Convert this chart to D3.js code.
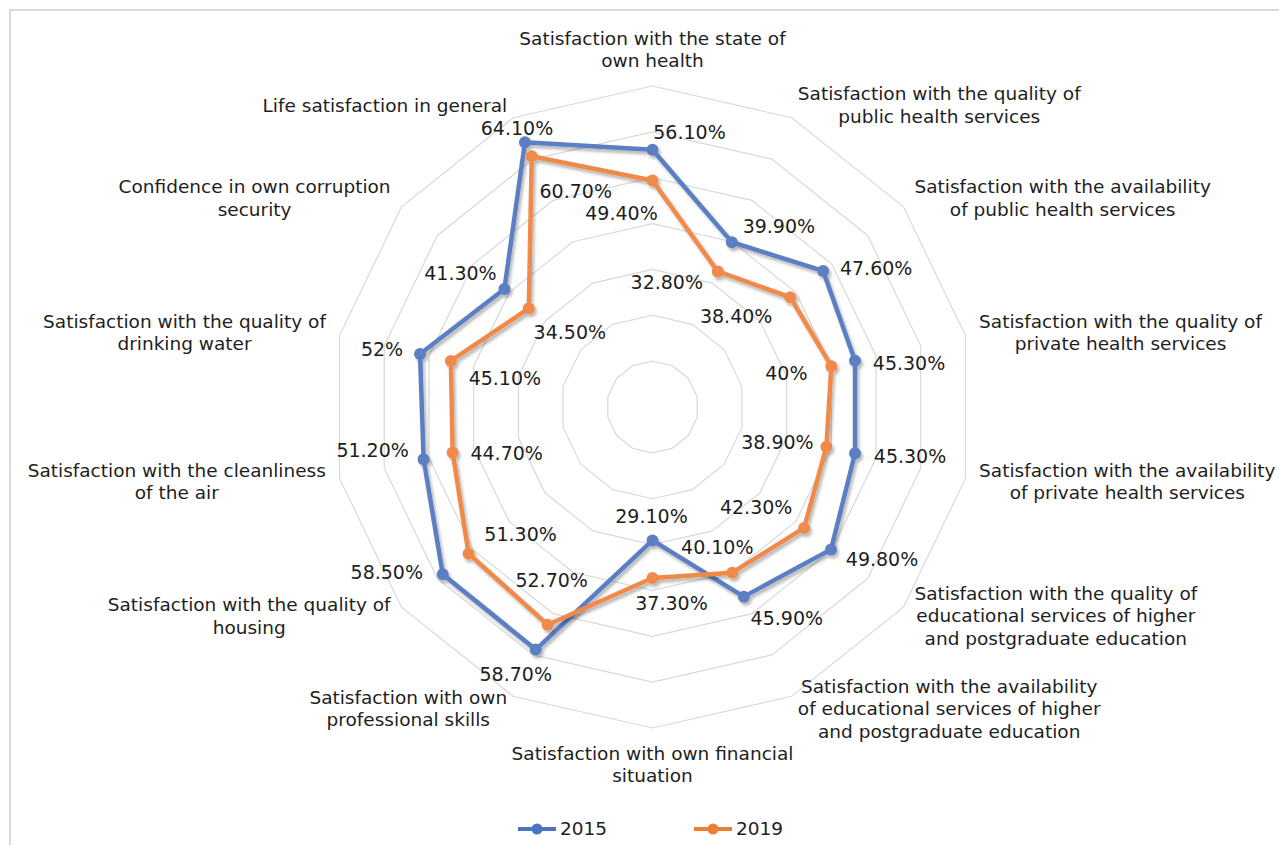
<!DOCTYPE html>
<html>
<head>
<meta charset="utf-8">
<script src="https://cdn.jsdelivr.net/npm/d3@7/dist/d3.min.js"></script>
<style>
  html, body { margin: 0; padding: 0; background: #fff; }
  svg { display: block; }
  text { font-family: "DejaVu Sans", Verdana, sans-serif; font-size: 18.5px; fill: #1e1e1e; }
  text.val { font-size: 19px; }
</style>
</head>
<body>
<svg id="chart" width="1279" height="845"></svg>
<script>
// Survey indicators, clockwise from the top
const categories = [
  ["Satisfaction with the state of", "own health"],
  ["Satisfaction with the quality of", "public health services"],
  ["Satisfaction with the availability", "of public health services"],
  ["Satisfaction with the quality of", "private health services"],
  ["Satisfaction with the availability", "of private health services"],
  ["Satisfaction with the quality of", "educational services of higher", "and postgraduate education"],
  ["Satisfaction with the availability", "of educational services of higher", "and postgraduate education"],
  ["Satisfaction with own financial", "situation"],
  ["Satisfaction with own", "professional skills"],
  ["Satisfaction with the quality of", "housing"],
  ["Satisfaction with the cleanliness", "of the air"],
  ["Satisfaction with the quality of", "drinking water"],
  ["Confidence in own corruption", "security"],
  ["Life satisfaction in general"]
];

const seriesNames = ["2015", "2019"];
const values2015 = [56.1, 39.9, 47.6, 45.3, 45.3, 49.8, 45.9, 29.1, 58.7, 58.5, 51.2, 52, 41.3, 64.1];
const values2019 = [49.4, 32.8, 38.4, 40, 38.9, 42.3, 40.1, 37.3, 52.7, 51.3, 44.7, 45.1, 34.5, 60.7];

// Radial grid levels (percent)
const gridTicks = [10, 20, 30, 40, 50, 60, 70];

// ---- layout ----
const W = 1279, H = 845;
const cx = 652.5, cy = 407;
const outerR = 321;
const n = categories.length;
const lineH = 22.4;

const colors = { "2015": "#5b7fc4", "2019": "#f08a4b" };
const legendColors = { "2015": "#4a74c2", "2019": "#ee7e33" };

// data-label placement relative to each point (label centre)
const labelShift = {
  "2015": [[37,-17],[47,-16],[53,-3],[54,3],[55,3],[51,10],[43,22],[-1,-24],[-20,25],[-56,-2],[-51,-9],[-38,-5],[-44,-16],[-8,-14]],
  "2019": [[-31,33],[-51,11],[-54,19],[-45,7],[-49,-4],[-48,-21],[-15,-25],[19,25],[4,-44],[52,-19],[54,1],[54,17],[41,24],[44,35]]
};

const svg = d3.select("#chart");

// drop shadow for the series lines
const defs = svg.append("defs");
const f = defs.append("filter").attr("id", "shadow")
  .attr("x", "-10%").attr("y", "-10%").attr("width", "120%").attr("height", "120%");
f.append("feDropShadow").attr("dx", 2).attr("dy", 3).attr("stdDeviation", 1.8)
  .attr("flood-color", "#000").attr("flood-opacity", 0.28);

// chart-area border
svg.append("rect").attr("x", 10).attr("y", 10).attr("width", W + 40).attr("height", H + 40)
  .attr("fill", "#fff").attr("stroke", "#d9d9d9").attr("stroke-width", 2);

const r = d3.scaleLinear().domain([0, 70]).range([0, outerR]);
const angle = d3.scalePoint().domain(d3.range(n + 1)).range([0, 2 * Math.PI]);

const g = svg.append("g").attr("transform", `translate(${cx},${cy})`);

// concentric polygon grid
const gridLine = d3.lineRadial()
  .angle((d, i) => angle(i))
  .radius(d => r(d))
  .curve(d3.curveLinearClosed);

g.append("g").selectAll("path").data(gridTicks).join("path")
  .attr("d", t => gridLine(d3.range(n).map(() => t)))
  .attr("fill", "none").attr("stroke", "#d9d9d9").attr("stroke-width", 1.2);

// category labels around the outer ring
const catG = g.append("g");
categories.forEach((lines, i) => {
  const a = angle(i);
  const s = Math.sin(a), c = Math.cos(a);
  const ax = (outerR + 14) * s, ay = -(outerR + 14) * c;
  const t = catG.append("text").attr("text-anchor", "middle");
  lines.forEach((ln, k) => t.append("tspan").attr("x", 0).attr("y", k * lineH).text(ln));
  let wMax = 0;
  t.selectAll("tspan").each(function () { wMax = Math.max(wMax, this.getComputedTextLength()); });
  const bh = lines.length * lineH;
  let bx, top;
  if (Math.abs(s) < 0.01) {
    bx = ax;
    top = c > 0 ? ay - bh : ay;
  } else {
    bx = ax + Math.sign(s) * wMax / 2;
    top = ay - bh / 2;
  }
  t.selectAll("tspan")
    .attr("x", bx)
    .attr("y", (d, k) => top + (k + 0.5) * lineH)
    .attr("dy", "0.35em");
});

// series
const fmt = v => (v % 1 === 0 ? v + "%" : v.toFixed(2) + "%");
const seriesData = [
  { name: seriesNames[0], values: values2015 },
  { name: seriesNames[1], values: values2019 }
];
const point = (v, i) => [r(v) * Math.sin(angle(i)), -r(v) * Math.cos(angle(i))];

seriesData.forEach(sd => {
  const sg = g.append("g").attr("filter", "url(#shadow)");
  sg.append("path")
    .attr("d", gridLine(sd.values))
    .attr("fill", "none")
    .attr("stroke", colors[sd.name])
    .attr("stroke-width", 4.5)
    .attr("stroke-linejoin", "round");
  sg.selectAll("circle").data(sd.values).join("circle")
    .attr("cx", (d, i) => point(d, i)[0])
    .attr("cy", (d, i) => point(d, i)[1])
    .attr("r", 6)
    .attr("fill", colors[sd.name]);
});

// data labels
seriesData.forEach(sd => {
  g.append("g").selectAll("text").data(sd.values).join("text")
    .attr("class", "val")
    .attr("text-anchor", "middle")
    .attr("dy", "0.35em")
    .attr("x", (d, i) => point(d, i)[0] + labelShift[sd.name][i][0])
    .attr("y", (d, i) => point(d, i)[1] + labelShift[sd.name][i][1])
    .text(d => fmt(d));
});

// legend
const legendX = [518, 694];
const legend = svg.append("g");
seriesNames.forEach((name, k) => {
  const lg = legend.append("g").attr("transform", `translate(${legendX[k]},829)`);
  lg.append("line").attr("x1", 0).attr("x2", 38).attr("y1", 0).attr("y2", 0)
    .attr("stroke", legendColors[name]).attr("stroke-width", 4);
  lg.append("circle").attr("cx", 19).attr("cy", 0).attr("r", 5.5).attr("fill", legendColors[name]);
  lg.append("text").attr("x", 42).attr("y", 0).attr("dy", "0.35em").text(name);
});
</script>
</body>
</html>
